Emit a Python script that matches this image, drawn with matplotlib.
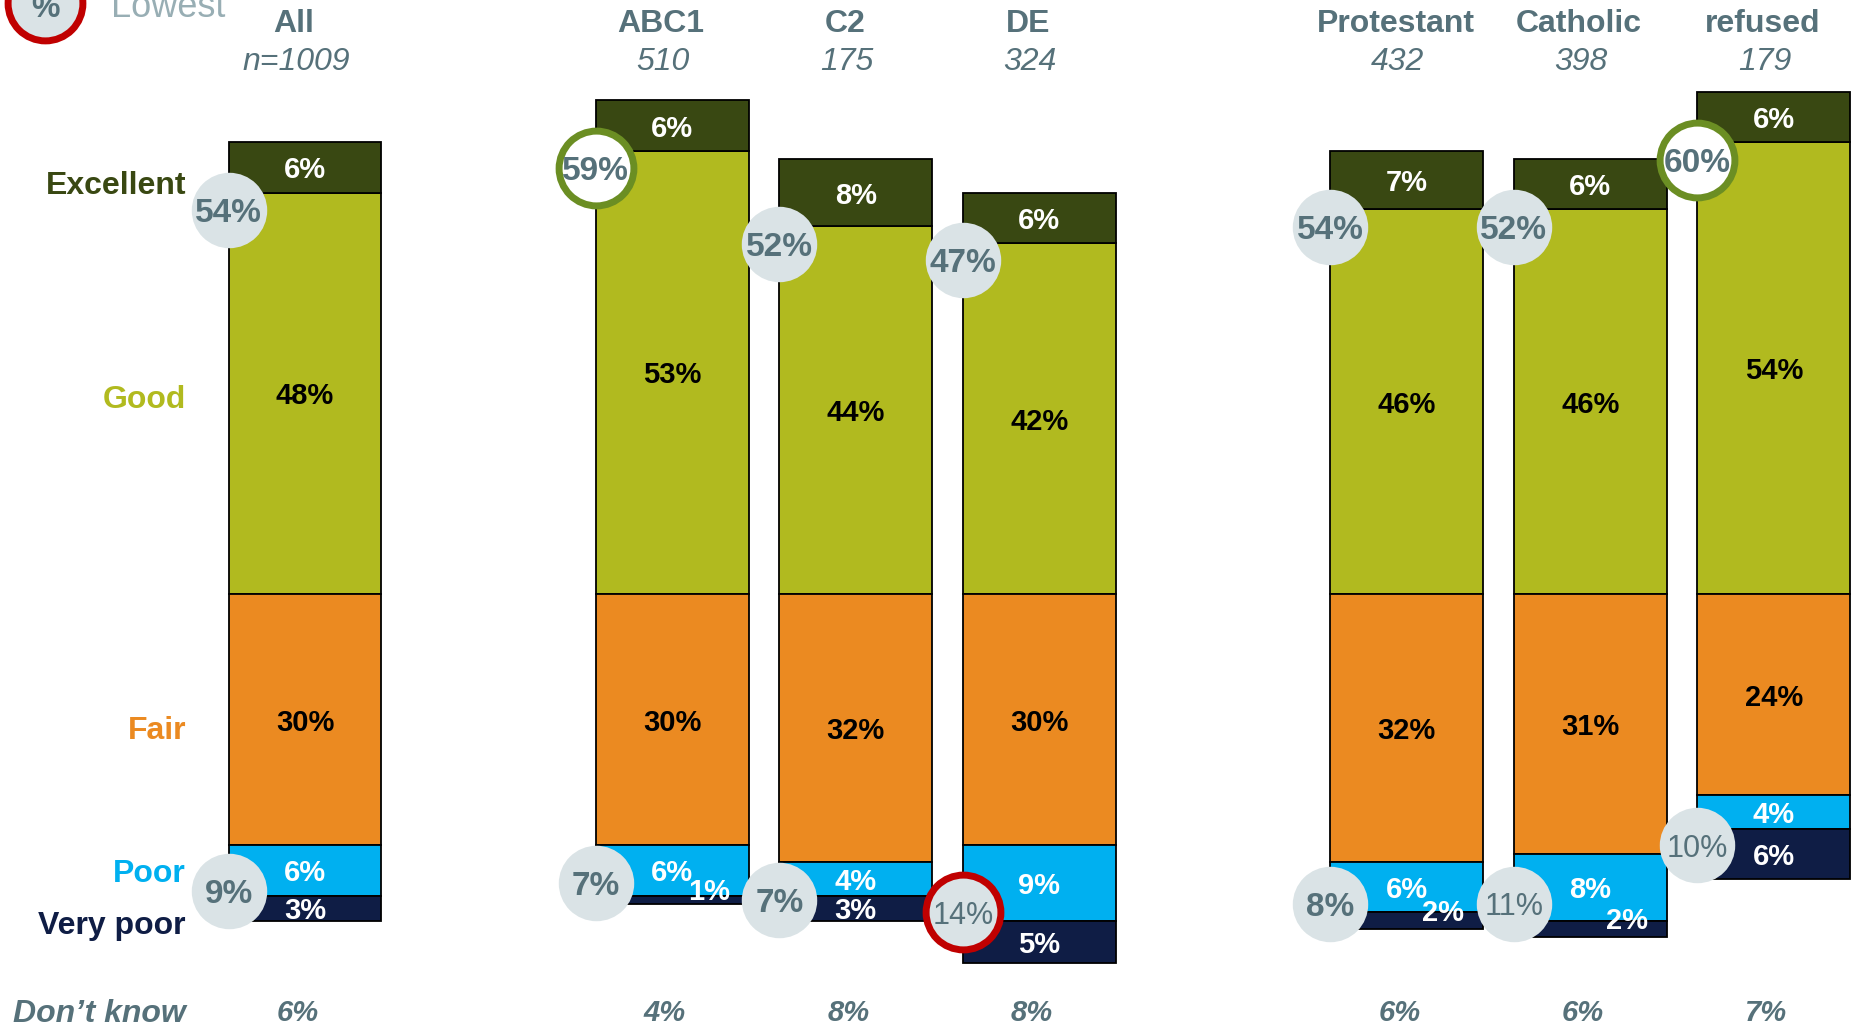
import matplotlib
matplotlib.use("Agg")
import matplotlib.pyplot as plt

plt.rcParams['font.family'] = ['Liberation Sans', 'DejaVu Sans']

# --- data ---
groups = ['All', 'ABC1', 'C2', 'DE', 'Protestant', 'Catholic', 'refused']
base_n = ['n=1009', '510', '175', '324', '432', '398', '179']
excellent = [6, 6, 8, 6, 7, 6, 6]
good = [48, 53, 44, 42, 46, 46, 54]
fair = [30, 30, 32, 30, 32, 31, 24]
poor = [6, 6, 4, 9, 6, 8, 4]
very_poor = [3, 1, 3, 5, 2, 2, 6]
dont_know = [6, 4, 8, 8, 6, 6, 7]
net_good = [54, 59, 52, 47, 54, 52, 60]
net_poor = [9, 7, 7, 14, 8, 11, 10]
good_highlight = ['ABC1', 'refused']
poor_highlight = ['DE']
rating_labels = ['Excellent', 'Good', 'Fair', 'Poor', 'Very poor']

# --- layout / style ---
xpos = [0, 2, 3, 4, 6, 7, 8]
width = 0.832
row_label_y = [49.2, 23.6, -15.9, -33.0, -39.2]
c_exc = '#394812'
c_good = '#b1ba1f'
c_fair = '#eb8a21'
c_poor = '#00b0f0'
c_vpoor = '#0f1d45'
c_circle = '#dae3e6'
c_grey = '#56717a'
c_green = '#6b8e23'
c_red = '#c00000'

fig = plt.figure(figsize=(18.57, 10.27), dpi=100)
ax = fig.add_axes([0, 0, 1, 1])
ax.set_xlim(-1.661, 8.453)
ax.set_ylim(-51.7, 71.0)
ax.axis('off')

neg_fair = [-f for f in fair]
neg_poor = [-p for p in poor]
neg_vp = [-v for v in very_poor]
fp = [-(f + p) for f, p in zip(fair, poor)]

bk = dict(edgecolor='black', linewidth=1.3, zorder=2)
ax.bar(xpos, good, width, bottom=0, color=c_good, **bk)
ax.bar(xpos, excellent, width, bottom=good, color=c_exc, **bk)
ax.bar(xpos, neg_fair, width, bottom=0, color=c_fair, **bk)
ax.bar(xpos, neg_poor, width, bottom=neg_fair, color=c_poor, **bk)
ax.bar(xpos, neg_vp, width, bottom=fp, color=c_vpoor, **bk)

seg_font = dict(fontsize=21, fontweight='bold', ha='center', va='center_baseline', zorder=5)
for i, x in enumerate(xpos):
    ax.text(x, good[i] + excellent[i] / 2, f'{excellent[i]}%', color='white', **seg_font)
    ax.text(x, good[i] / 2, f'{good[i]}%', color='black', **seg_font)
    ax.text(x, -fair[i] / 2, f'{fair[i]}%', color='black', **seg_font)
    ax.text(x, -fair[i] - poor[i] / 2, f'{poor[i]}%', color='white', **seg_font)
    vy = fp[i] - very_poor[i] / 2
    vx = x
    if very_poor[i] <= 2:
        vx = x + 0.2
        vy = vy + 1.3
    ax.text(vx, vy, f'{very_poor[i]}%', color='white', **seg_font)

    # net circles
    left = x - width / 2
    gy = good[i] - 2.1
    if groups[i] in good_highlight:
        ax.scatter(left, gy, s=2900, color='white', edgecolors=c_green, linewidths=5, zorder=3)
    else:
        ax.scatter(left, gy, s=2950, color=c_circle, linewidths=0, zorder=3)
    ax.text(left, gy, f'{net_good[i]}%', color=c_grey, fontsize=24, fontweight='bold',
            ha='center', va='center_baseline', zorder=4)

    py = -(fair[i] + (poor[i] + very_poor[i]) / 2) - 1.0
    if groups[i] in poor_highlight:
        ax.scatter(left, py, s=2900, color=c_circle, edgecolors=c_red, linewidths=5, zorder=3)
    else:
        ax.scatter(left, py, s=2950, color=c_circle, linewidths=0, zorder=3)
    two_digit = net_poor[i] >= 10
    ax.text(left, py, f'{net_poor[i]}%', color=c_grey, fontsize=22 if two_digit else 24,
            fontweight='normal' if two_digit else 'bold',
            ha='center', va='center_baseline', zorder=4)

    # headers and don't know
    ax.text(x - 0.06, 68.6, groups[i], color=c_grey, fontsize=23, fontweight='bold',
            ha='center', va='center_baseline')
    ax.text(x - 0.05, 64.0, base_n[i], color=c_grey, fontsize=23, fontstyle='italic',
            ha='center', va='center_baseline')
    ax.text(x - 0.04, -49.7, f'{dont_know[i]}%', color=c_grey, fontsize=21,
            fontweight='bold', fontstyle='italic', ha='center', va='center_baseline')

# row labels
row_colors = [c_exc, c_good, c_fair, c_poor, c_vpoor]
for lab, y, c in zip(rating_labels, row_label_y, row_colors):
    ax.text(-0.648, y, lab, color=c, fontsize=23, fontweight='bold',
            ha='right', va='center_baseline')
ax.text(-0.648, -49.7, 'Don\u2019t know', color=c_grey, fontsize=23,
        fontweight='bold', fontstyle='italic', ha='right', va='center_baseline')

# legend remnant (top-left)
ax.scatter(-1.414, 70.7, s=2900, color=c_circle, edgecolors=c_red, linewidths=5,
           zorder=3, clip_on=False)
ax.text(-1.414, 70.4, '%', color=c_grey, fontsize=23, fontweight='bold',
        ha='center', va='center_baseline', zorder=4)
ax.text(-1.057, 69.0, 'Lowest', color='#98aeb4', fontsize=26, ha='left', va='baseline')

fig.savefig('out.png', dpi=100)
